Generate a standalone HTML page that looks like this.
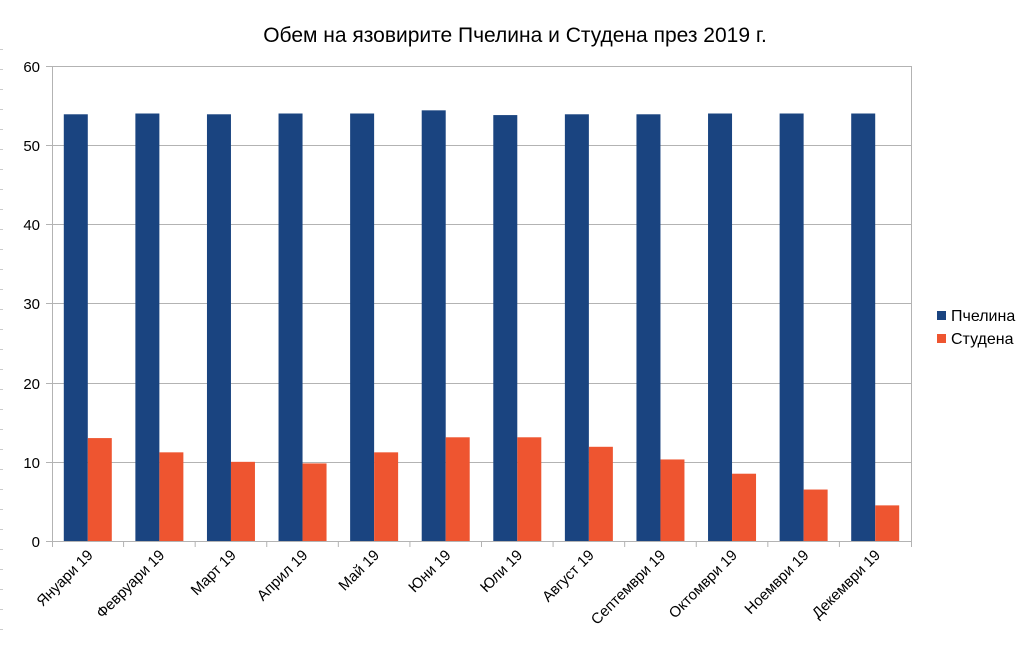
<!DOCTYPE html>
<html><head><meta charset="utf-8"><style>body{margin:0;background:#fff}svg{display:block}text{font-family:"Liberation Sans",sans-serif}</style></head>
<body>
<svg width="1024" height="650" xmlns="http://www.w3.org/2000/svg">
<g stroke="#ccc" stroke-width="1">
<line x1="0" y1="49.5" x2="3" y2="49.5"/><line x1="0" y1="69.5" x2="3" y2="69.5"/><line x1="0" y1="89.5" x2="3" y2="89.5"/><line x1="0" y1="109.5" x2="3" y2="109.5"/><line x1="0" y1="129.5" x2="3" y2="129.5"/><line x1="0" y1="149.5" x2="3" y2="149.5"/><line x1="0" y1="169.5" x2="3" y2="169.5"/><line x1="0" y1="189.5" x2="3" y2="189.5"/><line x1="0" y1="209.5" x2="3" y2="209.5"/><line x1="0" y1="229.5" x2="3" y2="229.5"/><line x1="0" y1="249.5" x2="3" y2="249.5"/><line x1="0" y1="269.5" x2="3" y2="269.5"/><line x1="0" y1="289.5" x2="3" y2="289.5"/><line x1="0" y1="309.5" x2="3" y2="309.5"/><line x1="0" y1="329.5" x2="3" y2="329.5"/><line x1="0" y1="349.5" x2="3" y2="349.5"/><line x1="0" y1="369.5" x2="3" y2="369.5"/><line x1="0" y1="389.5" x2="3" y2="389.5"/><line x1="0" y1="409.5" x2="3" y2="409.5"/><line x1="0" y1="429.5" x2="3" y2="429.5"/><line x1="0" y1="449.5" x2="3" y2="449.5"/><line x1="0" y1="469.5" x2="3" y2="469.5"/><line x1="0" y1="489.5" x2="3" y2="489.5"/><line x1="0" y1="509.5" x2="3" y2="509.5"/><line x1="0" y1="529.5" x2="3" y2="529.5"/><line x1="0" y1="549.5" x2="3" y2="549.5"/><line x1="0" y1="569.5" x2="3" y2="569.5"/><line x1="0" y1="589.5" x2="3" y2="589.5"/><line x1="0" y1="609.5" x2="3" y2="609.5"/><line x1="0" y1="629.5" x2="3" y2="629.5"/>
</g>
<text x="515" y="42" font-size="21" text-anchor="middle" fill="#000">Обем на язовирите Пчелина и Студена през 2019 г.</text>
<g stroke="#b3b3b3" stroke-width="1">
<line x1="46" y1="66.5" x2="912" y2="66.5"/>
<line x1="46" y1="145.5" x2="912" y2="145.5"/>
<line x1="46" y1="224.5" x2="912" y2="224.5"/>
<line x1="46" y1="303.5" x2="912" y2="303.5"/>
<line x1="46" y1="383.5" x2="912" y2="383.5"/>
<line x1="46" y1="462.5" x2="912" y2="462.5"/>
<line x1="46" y1="541.5" x2="912" y2="541.5"/>
<line x1="52.5" y1="66" x2="52.5" y2="547"/>
<line x1="911.5" y1="66" x2="911.5" y2="547"/>
</g>
<g font-size="15" text-anchor="end" fill="#000">
<text x="40" y="72">60</text><text x="40" y="151">50</text><text x="40" y="230">40</text><text x="40" y="309">30</text><text x="40" y="389">20</text><text x="40" y="468">10</text><text x="40" y="547">0</text>
</g>
<g id="bars"></g>
<rect x="937" y="311" width="9" height="9" fill="#1a4480"/>
<text x="951" y="321" font-size="16">Пчелина</text>
<rect x="937" y="334" width="9" height="9" fill="#ee5530"/>
<text x="951" y="344" font-size="16">Студена</text>
</svg>
<script>
var b=[53.9,54.0,53.9,54.0,54.0,54.4,53.8,53.9,53.9,54.0,54.0,54.0],s=[13.0,11.2,10.0,9.8,11.2,13.1,13.1,11.9,10.3,8.5,6.5,4.5];
var n=["Януари 19","Февруари 19","Март 19","Април 19","Май 19","Юни 19","Юли 19","Август 19","Септември 19","Октомври 19","Ноември 19","Декември 19"];
var g=document.getElementById("bars"),h="",w=859/12,z=541,k=475/60;
for(var i=0;i<12;i++){var c=52+w*i+w/2;
h+='<rect x="'+(c-24)+'" y="'+(z-b[i]*k)+'" width="24" height="'+(b[i]*k)+'" fill="#1a4480"/>';
h+='<rect x="'+c+'" y="'+(z-s[i]*k)+'" width="24" height="'+(s[i]*k)+'" fill="#ee5530"/>';
if(i>0)h+='<line x1="'+(52+w*i)+'" y1="541" x2="'+(52+w*i)+'" y2="547" stroke="#b3b3b3"/>';
h+='<text font-size="15" text-anchor="end" transform="translate('+(c+6)+',556) rotate(-45)">'+n[i]+'</text>';}
g.innerHTML=h;
</script>
</body></html>
